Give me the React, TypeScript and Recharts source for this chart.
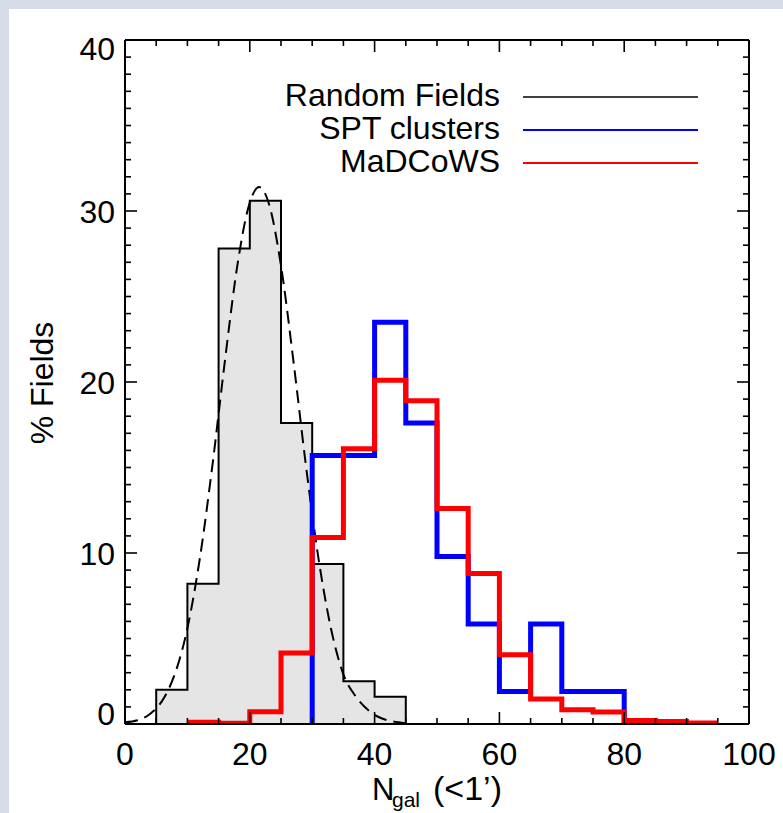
import React from 'react';
import { ComposedChart, Line, Area, XAxis, YAxis } from 'recharts';

const W = 783;
const H = 813;
const FONT = '"Liberation Sans", Arial, Helvetica, sans-serif';

// Random fields histogram (bin left edges, % of fields)
const rfEdges = [0, 5, 10, 15, 20, 25, 30, 35, 40, 45];
const rfPct = [0, 2.0, 8.2, 27.8, 30.6, 17.6, 9.35, 2.5, 1.6, 0];

// SPT clusters histogram
const sptEdges = [30, 30, 35, 40, 45, 50, 55, 60, 65, 70, 75, 80];
const sptPct = [0, 15.7, 15.7, 23.5, 17.6, 9.8, 5.85, 1.9, 5.85, 1.9, 1.9, 0];

// MaDCoWS histogram
const madEdges = [10, 15, 20, 25, 30, 35, 40, 45, 50, 55, 60, 65, 70, 75, 80, 85, 90, 95];
const madPct = [0.1, 0.05, 0.72, 4.15, 10.9, 16.1, 20.1, 18.9, 12.6, 8.8, 4.05, 1.46, 0.84, 0.7, 0.21, 0.15, 0.06, 0.06];

// Dashed fit curve to random fields
const fitN = [0, 2, 4, 6, 8, 10, 12, 14, 16, 18, 20, 21.5, 23, 25, 27, 29, 31, 33, 35, 37, 39, 41, 43, 45];
const fitPct = [0.1, 0.22, 0.59, 1.38, 2.94, 5.6, 9.7, 15.1, 21.2, 26.8, 30.5, 31.4, 30.5, 26.8, 21.2, 15.1, 9.7, 5.6, 2.9, 1.6, 0.8, 0.35, 0.15, 0.05];

// Axis ticks
const xMajor = [0, 20, 40, 60, 80, 100];
const xMinorStep = 5;
const yMajor = [0, 10, 20, 30, 40];
const yMinorStep = 1;

// Legend
const legendNames = ['Random Fields', 'SPT clusters', 'MaDCoWS'];
const legendColors = ['#000000', '#0000ff', '#ff0000'];
const legendWidths = [1.5, 2, 2];

const toRows = (xs: number[], ys: number[]) => xs.map((n, i) => ({ n, pct: ys[i] }));
const rfData = toRows(rfEdges, rfPct);
const sptData = toRows(sptEdges, sptPct);
const madData = toRows(madEdges, madPct);
const fitData = toRows(fitN, fitPct);

const xTicks = Array.from({ length: 100 / xMinorStep + 1 }, (_, i) => i * xMinorStep);
const yTicks = Array.from({ length: 40 / yMinorStep + 1 }, (_, i) => i * yMinorStep);

const MAJ = 12;
const MIN = 6;
const TW = 1.6;

const BottomTick = (props: any) => {
  const { x, y, payload } = props;
  const v = payload.value;
  const major = xMajor.includes(v);
  return (
    <g>
      <line x1={x} x2={x} y1={y} y2={y - (major ? MAJ : MIN)} stroke="#000" strokeWidth={TW} />
      {major && (
        <text x={x} y={y + 41} textAnchor="middle" fontSize={32} fontFamily={FONT} fill="#000">
          {v}
        </text>
      )}
    </g>
  );
};

const TopTick = (props: any) => {
  const { x, y, payload } = props;
  const major = xMajor.includes(payload.value);
  return <line x1={x} x2={x} y1={y} y2={y + (major ? MAJ : MIN)} stroke="#000" strokeWidth={TW} />;
};

const yLabelShift = (v: number) => (v === 40 ? 20 : v === 0 ? 1 : 12);

const LeftTick = (props: any) => {
  const { x, y, payload } = props;
  const v = payload.value;
  const major = yMajor.includes(v);
  return (
    <g>
      <line x1={x} x2={x + (major ? MAJ : MIN)} y1={y} y2={y} stroke="#000" strokeWidth={TW} />
      {major && (
        <text x={x - 10} y={y + yLabelShift(v)} textAnchor="end" fontSize={32} fontFamily={FONT} fill="#000">
          {v}
        </text>
      )}
    </g>
  );
};

const RightTick = (props: any) => {
  const { x, y, payload } = props;
  const major = yMajor.includes(payload.value);
  return <line x1={x} x2={x - (major ? MAJ : MIN)} y1={y} y2={y} stroke="#000" strokeWidth={TW} />;
};

const axisLine = { stroke: '#000', strokeWidth: 2 };

export default function App() {
  return (
    <div style={{ position: 'absolute', left: 0, top: 0, width: W, height: H, background: '#d6dde8', overflow: 'hidden' }}>
      <div style={{ position: 'absolute', left: 9, top: 9, width: W - 9, height: H - 9, background: '#ffffff' }} />
      <div style={{ position: 'absolute', left: 0, top: 0 }}>
        <ComposedChart width={W} height={H} margin={{ top: 39, left: 124, right: 33, bottom: 88 }}>
          <XAxis
            xAxisId="b"
            dataKey="n"
            type="number"
            orientation="bottom"
            domain={[0, 100]}
            ticks={xTicks}
            interval={0}
            height={1}
            tickSize={0}
            tickMargin={0}
            tickLine={false}
            axisLine={axisLine}
            tick={<BottomTick />}
            allowDataOverflow
          />
          <XAxis
            xAxisId="t"
            dataKey="n"
            type="number"
            orientation="top"
            domain={[0, 100]}
            ticks={xTicks}
            interval={0}
            height={1}
            tickSize={0}
            tickMargin={0}
            tickLine={false}
            axisLine={axisLine}
            tick={<TopTick />}
            allowDataOverflow
          />
          <YAxis
            yAxisId="l"
            type="number"
            orientation="left"
            domain={[0, 40]}
            ticks={yTicks}
            interval={0}
            width={1}
            tickSize={0}
            tickMargin={0}
            tickLine={false}
            axisLine={axisLine}
            tick={<LeftTick />}
            allowDataOverflow
          />
          <YAxis
            yAxisId="r"
            type="number"
            orientation="right"
            domain={[0, 40]}
            ticks={yTicks}
            interval={0}
            width={1}
            tickSize={0}
            tickMargin={0}
            tickLine={false}
            axisLine={axisLine}
            tick={<RightTick />}
            allowDataOverflow
          />
          <Area
            xAxisId="b"
            yAxisId="l"
            data={rfData}
            dataKey="pct"
            type="stepAfter"
            stroke="#000"
            strokeWidth={2}
            fill="#e5e5e5"
            fillOpacity={1}
            baseValue={0}
            dot={false}
            activeDot={false}
            isAnimationActive={false}
          />
          <Line
            xAxisId="b"
            yAxisId="l"
            data={fitData}
            dataKey="pct"
            type="monotone"
            stroke="#000"
            strokeWidth={2}
            strokeDasharray="13 7"
            dot={false}
            activeDot={false}
            isAnimationActive={false}
          />
          <Line
            xAxisId="b"
            yAxisId="l"
            data={sptData}
            dataKey="pct"
            type="stepAfter"
            stroke="#0000ff"
            strokeWidth={5}
            dot={false}
            activeDot={false}
            isAnimationActive={false}
          />
          <Line
            xAxisId="b"
            yAxisId="l"
            data={madData}
            dataKey="pct"
            type="stepAfter"
            stroke="#ff0000"
            strokeWidth={5}
            dot={false}
            activeDot={false}
            isAnimationActive={false}
          />
        </ComposedChart>
      </div>
      <svg
        width={W}
        height={H}
        style={{ position: 'absolute', left: 0, top: 0, pointerEvents: 'none' }}
        fontFamily={FONT}
      >
        {legendNames.map((name, i) => {
          const cy = 97 + i * 33;
          return (
            <g key={name}>
              <text x={500} y={cy + 9} textAnchor="end" fontSize={32} fill="#000">
                {name}
              </text>
              <line x1={523} x2={698} y1={cy} y2={cy} stroke={legendColors[i]} strokeWidth={legendWidths[i]} />
            </g>
          );
        })}
        <text x={53} y={383} transform="rotate(-90 53 383)" textAnchor="middle" fontSize={32} fill="#000">
          % Fields
        </text>
        <text y={800} fontSize={31} fill="#000">
          <tspan x={372}>N</tspan>
          <tspan x={392} y={807} fontSize={21}>gal</tspan>
          <tspan x={433} y={800} fontSize={34}>(&lt;1’)</tspan>
        </text>
      </svg>
    </div>
  );
}
